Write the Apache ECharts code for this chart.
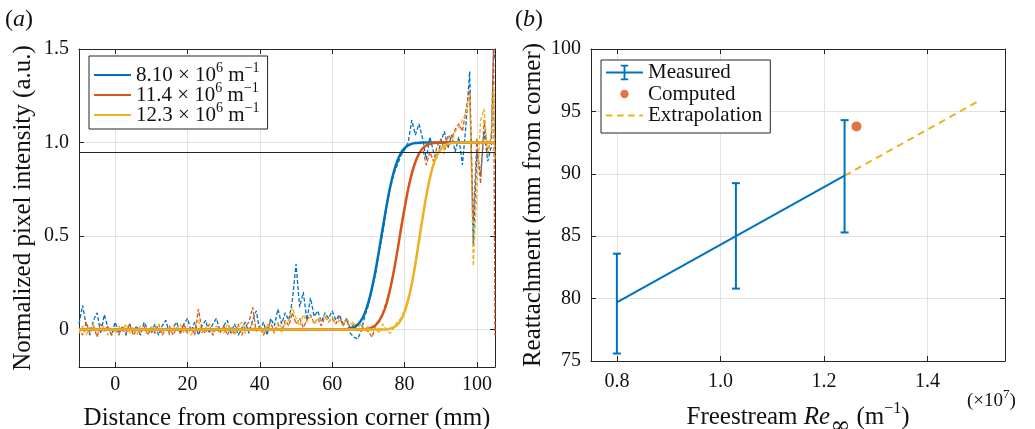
<!DOCTYPE html>
<html>
<head>
<meta charset="utf-8">
<script src="https://cdn.jsdelivr.net/npm/echarts@6/dist/echarts.min.js"></script>
<style>
html,body{margin:0;padding:0;background:#fff;}
#chart{width:1035px;height:429px;}
</style>
</head>
<body>
<div id="chart"></div>
<script>
// ---------- Panel (a) data ----------
const reLabels = ['8.10', '11.4', '12.3'];
const threshold = 0.95;
const distance = [
-10,-9,-8,-7,-6,-5,-4,-3,-2,-1,
0,1,2,3,4,5,6,7,8,9,
10,11,12,13,14,15,16,17,18,19,
20,21,22,23,24,25,26,27,28,29,
30,31,32,33,34,35,36,37,38,39,
40,41,42,43,44,45,46,47,48,49,
50,51,52,53,54,55,56,57,58,59,
60,61,62,63,64,65,66,67,68,69,
70,71,72,73,74,75,76,77,78,79,
80,81,82,83,84,85,86,87,88,89,
90,91,92,93,94,95,96,97,98,99,
100,101,102,103,104,104.6,105];
const rawBlue = [
0.03,0.13,0.02,-0.03,0.05,0.09,-0.02,0.08,0.01,-0.03,
0.04,-0.02,0.01,-0.03,0.03,-0.01,0.02,-0.03,0.04,0.00,
-0.02,0.03,-0.03,0.02,0.05,-0.02,0.01,0.04,-0.02,0.03,
0.06,-0.01,0.04,-0.03,0.02,0.05,-0.02,0.03,0.06,-0.01,
0.02,0.05,-0.02,0.03,-0.03,0.01,0.04,-0.02,0.05,0.10,
-0.01,0.04,-0.03,0.06,0.02,0.11,0.03,0.09,0.05,0.16,
0.35,0.12,0.20,0.05,0.17,0.07,0.10,0.04,0.09,0.06,
0.10,0.05,0.08,0.03,0.06,-0.02,-0.04,-0.05,-0.01,0.07,
0.13,0.21,0.30,0.42,0.52,0.65,0.75,0.83,0.88,0.93,
0.96,1.00,1.12,1.04,1.10,1.02,0.91,1.03,0.95,0.92,
1.00,1.06,0.97,1.04,0.95,1.03,0.88,1.10,1.38,0.45,
0.95,0.82,1.06,0.90,0.98,1.50,1.45];
const rawRed = [
0.01,-0.03,0.04,-0.02,0.02,-0.04,0.03,-0.01,0.02,-0.03,
0.01,-0.03,0.02,-0.02,0.03,-0.03,0.00,-0.02,0.02,-0.03,
0.01,-0.02,0.03,-0.03,0.00,0.02,-0.03,0.01,-0.02,0.03,
-0.02,0.01,-0.03,0.11,0.00,-0.02,0.03,-0.03,0.01,-0.02,
0.02,-0.03,0.01,-0.02,0.03,-0.03,0.02,0.04,0.12,-0.01,
0.02,-0.03,0.01,0.04,-0.02,0.03,-0.01,0.05,0.02,0.09,
0.03,0.06,0.01,0.05,0.08,0.03,0.06,0.02,0.07,0.04,
0.06,0.03,0.07,0.02,0.05,0.01,0.03,-0.01,0.02,0.00,
-0.01,-0.04,0.02,0.05,0.09,0.15,0.22,0.31,0.42,0.55,
0.66,0.76,0.84,0.90,0.94,0.97,0.88,0.95,0.90,0.98,
1.02,0.96,1.04,1.02,1.07,1.10,1.06,1.18,1.28,0.58,
1.02,0.78,1.12,0.94,1.04,1.50,-0.03];
const rawYellow = [
-0.02,0.02,-0.03,0.01,0.03,-0.02,0.00,0.02,-0.03,0.01,
-0.02,0.02,-0.01,0.03,-0.02,0.01,-0.03,0.02,0.00,-0.02,
0.02,-0.01,0.03,-0.02,0.01,-0.03,0.02,0.00,0.03,-0.02,
0.01,-0.03,0.02,0.05,-0.02,0.01,0.03,-0.02,0.02,0.00,
-0.02,0.03,0.00,-0.03,0.02,0.04,-0.02,0.01,0.03,-0.01,
0.02,-0.02,0.03,0.00,-0.01,0.04,0.01,0.03,0.05,0.12,
0.06,0.02,0.08,0.04,0.07,0.03,0.06,0.05,0.08,0.04,
0.07,0.03,0.05,0.02,0.06,0.03,0.04,0.01,0.03,0.00,
0.02,-0.01,0.01,-0.02,0.03,0.00,-0.02,0.01,0.04,0.06,
0.10,0.16,0.24,0.36,0.47,0.60,0.72,0.82,0.88,0.93,
0.96,0.94,1.03,1.00,1.06,1.08,1.12,1.16,1.26,0.34,
0.74,1.12,1.18,0.93,1.06,1.30,0.90];
const fitBlue = [
0,0,0,0,0,0,0,0,0,0,
0,0,0,0,0,0,0,0,0,0,
0,0,0,0,0,0,0,0,0,0,
0,0,0,0,0,0,0,0,0,0,
0,0,0,0,0,0,0,0,0,0,
0,0,0,0,0,0,0,0,0,0,
0,0,0,0,0,0,0,0,0,0,
0,0,0,0,0.002,0.006,0.013,0.026,0.049,0.088,
0.145,0.223,0.319,0.43,0.547,0.66,0.761,0.841,0.902,0.944,
0.97,0.985,0.993,0.997,0.999,1,1,1,1,1,
1,1,1,1,1,1,1,1,1,1,
1,1,1,1,1,1,1];
const fitRed = [
0,0,0,0,0,0,0,0,0,0,
0,0,0,0,0,0,0,0,0,0,
0,0,0,0,0,0,0,0,0,0,
0,0,0,0,0,0,0,0,0,0,
0,0,0,0,0,0,0,0,0,0,
0,0,0,0,0,0,0,0,0,0,
0,0,0,0,0,0,0,0,0,0,
0,0,0,0,0,0,0,0,0,0.002,
0.005,0.012,0.024,0.047,0.084,0.138,0.214,0.309,0.418,0.536,
0.648,0.751,0.834,0.896,0.941,0.968,0.984,0.993,0.997,0.999,
1,1,1,1,1,1,1,1,1,1,
1,1,1,1,1,1,1];
const fitYellow = [
0,0,0,0,0,0,0,0,0,0,
0,0,0,0,0,0,0,0,0,0,
0,0,0,0,0,0,0,0,0,0,
0,0,0,0,0,0,0,0,0,0,
0,0,0,0,0,0,0,0,0,0,
0,0,0,0,0,0,0,0,0,0,
0,0,0,0,0,0,0,0,0,0,
0,0,0,0,0,0,0,0,0,0,
0,0,0,0,0,0,0.005,0.012,0.026,0.052,
0.095,0.159,0.245,0.352,0.476,0.599,0.713,0.81,0.883,0.933,
0.965,0.983,0.993,0.997,0.999,1,1,1,1,1,
1,1,1,1,1,1,1];
const xTicksA = [0, 20, 40, 60, 80, 100];
const yTicksA = [0, 0.5, 1.0, 1.5];

// ---------- Panel (b) data ----------
const reMeasured = [0.80, 1.03, 1.24];
const attachMeasured = [79.7, 85.0, 89.85];
const attachLow = [75.6, 80.8, 85.3];
const attachHigh = [83.6, 89.25, 94.3];
const reComputed = [1.263];
const attachComputed = [93.8];
const reExtrap = [1.24, 1.50];
const attachExtrap = [89.85, 95.85];
const xTicksB = [0.8, 1.0, 1.2, 1.4];

// ---------- styling ----------
const BLUE = '#0072BD', RED = '#D95319', YEL = '#EDB120';
const AX = '#262626', GRIDC = '#e2e2e2', TXT = '#111';
const FF = 'Liberation Serif';

const pair = (xs, ys) => xs.map((x, i) => [x, ys[i]]);

function supRich(base, sup, raise, lh) {
  return {
    sup: {fontFamily: FF, fontSize: sup, color: TXT, padding: [0, 0, raise * 2, 0], lineHeight: lh},
    it: {fontFamily: FF, fontSize: base, color: TXT, fontStyle: 'italic', lineHeight: lh},
    inf: {fontFamily: 'DejaVu Serif', fontSize: base - 1, color: TXT, padding: [18, 0, 0, 0], lineHeight: lh}
  };
}

function mkX(grid, min, max, ticks, pos, showLabels, fmt, margin, name, nameGap, nameRich) {
  return {
    type: 'value', gridIndex: grid, min: min, max: max, position: pos,
    name: name || '', nameLocation: 'middle', nameGap: nameGap || 0,
    nameTextStyle: {fontFamily: FF, fontSize: 25, color: TXT, lineHeight: 28, rich: nameRich},
    axisLine: {show: true, onZero: false, lineStyle: {color: AX, width: 1}},
    axisTick: {show: true, inside: true, length: 5, customValues: ticks, lineStyle: {color: AX}},
    axisLabel: {show: showLabels, customValues: ticks, margin: margin || 8, fontFamily: FF, fontSize: 20, color: TXT, formatter: fmt},
    splitLine: {show: showLabels, lineStyle: {color: GRIDC, width: 1}}
  };
}
function mkY(grid, min, max, ticks, interval, pos, showLabels, fmt, name, nameGap) {
  const o = {
    type: 'value', gridIndex: grid, min: min, max: max, position: pos,
    name: name || '', nameLocation: 'middle', nameGap: nameGap || 0,
    nameTextStyle: {fontFamily: FF, fontSize: 25, color: TXT, lineHeight: 28},
    axisLine: {show: true, onZero: false, lineStyle: {color: AX, width: 1}},
    axisTick: {show: true, inside: true, length: 5, lineStyle: {color: AX}},
    axisLabel: {show: showLabels, margin: 10, fontFamily: FF, fontSize: 20, color: TXT, formatter: fmt},
    splitLine: {show: showLabels, lineStyle: {color: GRIDC, width: 1}}
  };
  if (ticks) { o.axisTick.customValues = ticks; o.axisLabel.customValues = ticks; }
  if (interval) o.interval = interval;
  return o;
}

const fmtA = v => (v === 0 ? '0' : v.toFixed(1));
const fmtB = v => v.toFixed(1);

const ICON_FIT = 'path://M0,0 M40,18 M0,7.8 L40,7.8 L40,10.2 L0,10.2 Z';
const ICON_MEAS = 'path://M0,0 M40,18 M0,8 L40,8 L40,10 L0,10 Z M19,0.5 L21,0.5 L21,17.5 L19,17.5 Z M16,0.5 L24,0.5 L24,2.5 L16,2.5 Z M16,15.5 L24,15.5 L24,17.5 L16,17.5 Z';
const ICON_DOT = 'path://M0,0 M40,18 M15.5,9 A4.5,4.5 0 1,0 24.5,9 A4.5,4.5 0 1,0 15.5,9 Z';
const ICON_DASH = 'path://M0,0 M40,18 M0,7.8 L7,7.8 L7,10.2 L0,10.2 Z M12,7.8 L19,7.8 L19,10.2 L12,10.2 Z M24,7.8 L31,7.8 L31,10.2 L24,10.2 Z M36,7.8 L40,7.8 L40,10.2 L36,10.2 Z';

const rawSeries = (name, ys, color) => ({
  type: 'line', name: name + ' raw', xAxisIndex: 0, yAxisIndex: 0,
  data: pair(distance, ys), symbol: 'none', silent: true,
  lineStyle: {color: color, width: 1.3, type: [4, 2]}, z: 2
});
const fitSeries = (name, ys, color, extra) => Object.assign({
  type: 'line', name: name, xAxisIndex: 0, yAxisIndex: 0,
  data: pair(distance, ys), symbol: 'none', smooth: 0.3,
  itemStyle: {color: color}, lineStyle: {color: color, width: 2.5}, z: 4
}, extra || {});

const chart = echarts.init(document.getElementById('chart'), null, {renderer: 'canvas'});
chart.setOption({
  animation: false,
  backgroundColor: '#fff',
  textStyle: {fontFamily: FF},
  grid: [
    {left: 79, top: 49, width: 416, height: 318, outerBoundsMode: 'none', containLabel: false},
    {left: 591, top: 49, width: 414, height: 312, outerBoundsMode: 'none', containLabel: false}
  ],
  xAxis: [
    mkX(0, -10, 105, xTicksA, 'bottom', true, v => String(v), 8, 'Distance from compression corner (mm)', 37),
    mkX(0, -10, 105, xTicksA, 'top', false, null),
    mkX(1, 0.75, 1.55, xTicksB, 'bottom', true, fmtB, 11, 'Freestream {it|Re}{inf|∞} (m{sup|−1})', 35, supRich(25, 16, 9, 28)),
    mkX(1, 0.75, 1.55, xTicksB, 'top', false, null)
  ],
  yAxis: [
    mkY(0, -0.2, 1.5, yTicksA, null, 'left', true, fmtA, 'Normalized pixel intensity (a.u.)', 42),
    mkY(0, -0.2, 1.5, yTicksA, null, 'right', false, null),
    mkY(1, 75, 100, null, 5, 'left', true, v => String(v), 'Reattachment (mm from corner)', 44),
    mkY(1, 75, 100, null, 5, 'right', false, null)
  ],
  legend: [
    {
      left: 89, top: 56, orient: 'vertical', align: 'left',
      padding: [5, 8, 0, 5], itemGap: -8, itemWidth: 37, itemHeight: 18,
      backgroundColor: '#fff', borderColor: AX, borderWidth: 1, borderRadius: 0,
      data: reLabels.map(n => ({name: n, icon: ICON_FIT})),
      formatter: n => n + ' × 10{sup|6} m{sup|−1}',
      textStyle: {fontFamily: FF, fontSize: 21, color: TXT, lineHeight: 20,
        rich: supRich(21, 14, 7, 20)},
      selectedMode: false
    },
    {
      left: 601, top: 60, orient: 'vertical', align: 'left',
      padding: [2, 8, 7, 5], itemGap: 0.5, itemWidth: 37, itemHeight: 18,
      backgroundColor: '#fff', borderColor: AX, borderWidth: 1, borderRadius: 0,
      data: [{name: 'Measured', icon: ICON_MEAS}, {name: 'Computed', icon: ICON_DOT}, {name: 'Extrapolation', icon: ICON_DASH}],
      textStyle: {fontFamily: FF, fontSize: 21, color: TXT, lineHeight: 20},
      selectedMode: false
    }
  ],
  graphic: [
    {type: 'text', left: 5, top: 8, style: {text: '({it|a})', fontFamily: FF, fontSize: 24, fill: TXT,
      rich: {it: {fontFamily: FF, fontSize: 24, fontStyle: 'italic', color: TXT}}}},
    {type: 'text', left: 515, top: 8, style: {text: '({it|b})', fontFamily: FF, fontSize: 24, fill: TXT,
      rich: {it: {fontFamily: FF, fontSize: 24, fontStyle: 'italic', color: TXT}}}},
    {type: 'text', left: 967, top: 388, style: {text: '(×10{sup|7})', fontFamily: FF, fontSize: 19, fill: TXT, lineHeight: 22,
      rich: {sup: {fontFamily: FF, fontSize: 13, padding: [0, 0, 14, 0], lineHeight: 22, color: TXT}}}}
  ],
  series: [
    rawSeries(reLabels[0], rawBlue, BLUE),
    fitSeries(reLabels[0], fitBlue, BLUE),
    rawSeries(reLabels[1], rawRed, RED),
    fitSeries(reLabels[1], fitRed, RED),
    rawSeries(reLabels[2], rawYellow, YEL),
    fitSeries(reLabels[2], fitYellow, YEL, {
      markLine: {silent: true, symbol: 'none', label: {show: false},
        lineStyle: {color: AX, width: 1, type: 'solid'},
        data: [{yAxis: threshold}]}
    }),
    {
      type: 'line', name: 'Measured', xAxisIndex: 2, yAxisIndex: 2,
      data: pair(reMeasured, attachMeasured), symbol: 'none',
      itemStyle: {color: BLUE}, lineStyle: {color: BLUE, width: 2}, z: 3
    },
    {
      type: 'custom', name: 'Measured', xAxisIndex: 2, yAxisIndex: 2,
      data: reMeasured.map((x, i) => [x, attachLow[i], attachHigh[i]]),
      encode: {x: 0, y: [1, 2]},
      itemStyle: {color: BLUE}, z: 4,
      renderItem: function (params, api) {
        const x = api.value(0);
        const lo = api.coord([x, api.value(1)]);
        const hi = api.coord([x, api.value(2)]);
        const c = 4;
        const st = {stroke: BLUE, lineWidth: 2};
        return {type: 'group', children: [
          {type: 'line', shape: {x1: lo[0], y1: lo[1], x2: hi[0], y2: hi[1]}, style: st},
          {type: 'line', shape: {x1: lo[0] - c, y1: lo[1], x2: lo[0] + c, y2: lo[1]}, style: st},
          {type: 'line', shape: {x1: hi[0] - c, y1: hi[1], x2: hi[0] + c, y2: hi[1]}, style: st}
        ]};
      }
    },
    {
      type: 'scatter', name: 'Computed', xAxisIndex: 2, yAxisIndex: 2,
      data: pair(reComputed, attachComputed), symbol: 'circle', symbolSize: 10,
      itemStyle: {color: RED}, z: 5
    },
    {
      type: 'line', name: 'Extrapolation', xAxisIndex: 2, yAxisIndex: 2,
      data: pair(reExtrap, attachExtrap), symbol: 'none',
      itemStyle: {color: YEL}, lineStyle: {color: YEL, width: 2, type: [7, 5]}, z: 3
    }
  ]
});
</script>
</body>
</html>
